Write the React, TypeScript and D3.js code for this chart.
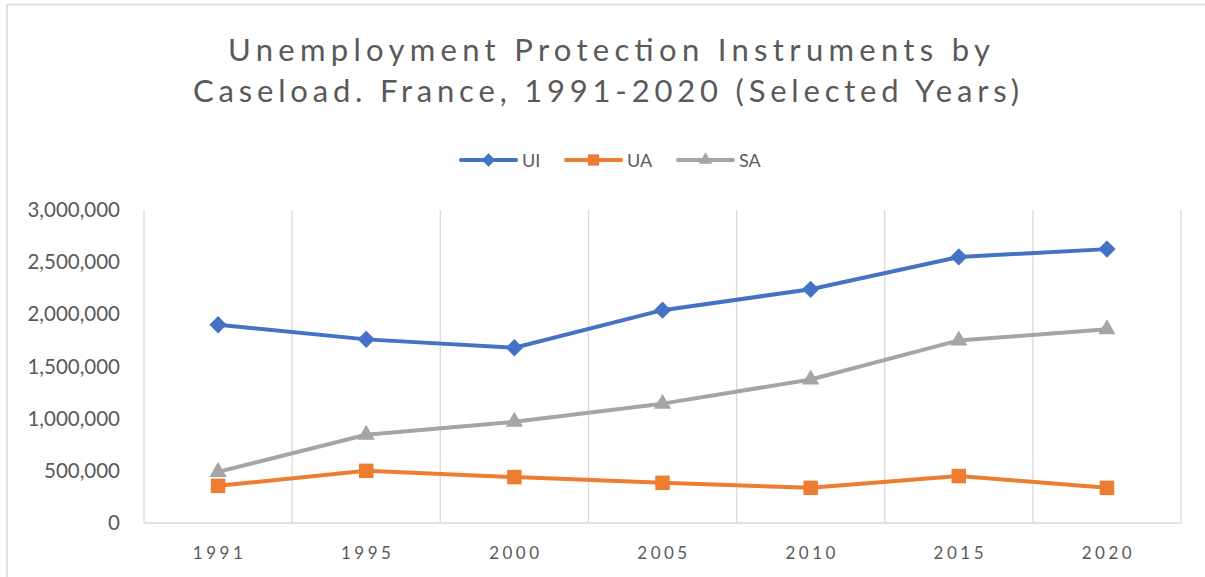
import React from "react";
import * as d3 from "d3";

const years = ["1991", "1995", "2000", "2005", "2010", "2015", "2020"];
const ui = [1900000, 1760000, 1680000, 2040000, 2240000, 2550000, 2625000];
const ua = [356000, 500000, 440000, 385000, 337000, 450000, 337000];
const sa = [490000, 846000, 970000, 1144000, 1375000, 1750000, 1856000];
const yTicks = [0, 500000, 1000000, 1500000, 2000000, 2500000, 3000000];
const titleLines = ["Unemployment Protection Instruments by", "Caseload. France, 1991-2020 (Selected Years)"];

const W = 1205;
const H = 577;
const font = "Lato, 'Open Sans', sans-serif";
const grey = "#595959";
const gridCol = "#d9d9d9";

// diamond = square turned 45deg
const series = [
  { name: "UI", values: ui, color: "#4472C4", shape: d3.symbolSquare, size: 150, rot: 45 },
  { name: "UA", values: ua, color: "#ED7D31", shape: d3.symbolSquare, size: 210, rot: 0 },
  { name: "SA", values: sa, color: "#A5A5A5", shape: d3.symbolTriangle, size: 130, rot: 0 },
];

export default function App() {
  const x = d3.scaleBand().domain(years).range([144, 1181]).padding(0);
  const y = d3.scaleLinear().domain([0, 3000000]).range([523, 210]);
  const fmt = d3.format(",");
  const cx = (yr: string) => (x(yr) as number) + x.bandwidth() / 2;
  const edges = years.map((yr) => x(yr) as number).concat([1181]);

  const legendX = [461, 566, 678];

  return (
    <div style={{ position: "fixed", left: 0, top: 0 }}>
      <svg width={W} height={H} style={{ display: "block", background: "#fff" }}>
        {/* chart frame */}
        <line x1={7} x2={W} y1={4.5} y2={4.5} stroke={gridCol} strokeWidth={1.5} />
        <line x1={7} x2={7} y1={4} y2={H} stroke={gridCol} strokeWidth={1.5} />

        {/* title */}
        <g fill={grey} fontFamily={font} fontSize={31}>
          <text x={228} y={61} textLength={762} lengthAdjust="spacing">{titleLines[0]}</text>
          <text x={193} y={102} textLength={826} lengthAdjust="spacing">{titleLines[1]}</text>
        </g>

        {/* legend */}
        {series.map((s, i) => (
          <g key={s.name} transform={`translate(${legendX[i]},160)`}>
            <line x1={0} x2={55} y1={0} y2={0} stroke={s.color} strokeWidth={4} strokeLinecap="round" />
            <path
              d={d3.symbol().type(s.shape).size(s.size * 0.6)() as string}
              transform={`translate(27.5,0) rotate(${s.rot})`}
              fill={s.color}
            />
            <text x={61} y={6.5} fontFamily={font} fontSize={18} fill={grey}>{s.name}</text>
          </g>
        ))}

        {/* vertical gridlines */}
        {edges.map((e, i) => (
          <line key={i} x1={e} x2={e} y1={210} y2={523} stroke={gridCol} strokeWidth={1.3} />
        ))}
        <line x1={144} x2={1181} y1={523} y2={523} stroke={gridCol} strokeWidth={1.5} />

        {/* y axis labels */}
        {yTicks.map((t) => (
          <text key={t} x={120} y={y(t) + 7} textAnchor="end" fontFamily={font} fontSize={20.5} fill={grey}>
            {fmt(t)}
          </text>
        ))}

        {/* x axis labels */}
        {years.map((yr) => (
          <text key={yr} x={cx(yr) + 1.5} y={559} textAnchor="middle" fontFamily={font} fontSize={17} letterSpacing={3.5} fill={grey}>
            {yr}
          </text>
        ))}

        {/* series */}
        {series.map((s) => {
          const line = d3.line<number>().x((_, i) => cx(years[i])).y((v) => y(v));
          return (
            <g key={s.name}>
              <path d={line(s.values) as string} fill="none" stroke={s.color} strokeWidth={4} strokeLinejoin="round" />
              {s.values.map((v, i) => (
                <path
                  key={i}
                  d={d3.symbol().type(s.shape).size(s.size)() as string}
                  transform={`translate(${cx(years[i])},${y(v)}) rotate(${s.rot})`}
                  fill={s.color}
                />
              ))}
            </g>
          );
        })}
      </svg>
    </div>
  );
}
